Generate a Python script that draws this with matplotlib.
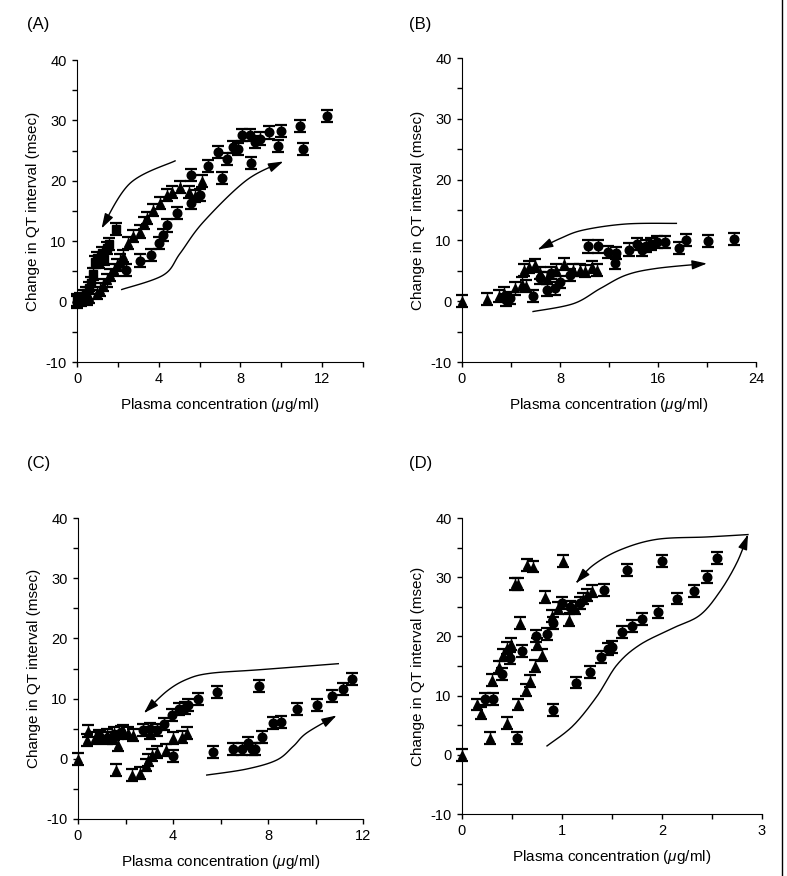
import numpy as np
import matplotlib
matplotlib.use("Agg")
import matplotlib.pyplot as plt

plt.rcParams['font.family'] = ['Liberation Sans', 'DejaVu Sans']
plt.rcParams['mathtext.fontset'] = 'custom'
plt.rcParams['mathtext.rm'] = 'Liberation Sans'
plt.rcParams['mathtext.it'] = 'Liberation Sans:italic'
plt.rcParams['axes.unicode_minus'] = False

# ---- panel A (x 0-14) ----
a_circ_x = [0.0, 0.5, 2.4, 3.09, 3.61, 3.99, 4.23, 4.43, 4.89, 5.59, 5.59, 6.03, 6.39, 6.88, 7.09,
            7.34, 7.66, 7.86, 8.07, 8.45, 8.51, 8.69, 8.97, 9.38, 9.82, 9.98, 10.9, 11.06, 12.24]
a_circ_y = [0.0, 0.5, 5.2, 6.8, 7.7, 9.7, 11.0, 12.6, 14.6, 16.4, 21.0, 17.7, 22.5, 24.7, 20.4,
            23.6, 25.6, 25.3, 27.6, 27.6, 23.0, 26.5, 27.0, 28.0, 25.7, 28.3, 29.1, 25.3, 30.7]
a_tri_x = [0.2, 0.6, 0.96, 1.15, 1.29, 1.45, 1.62, 1.8, 1.94, 2.1, 2.27, 2.52, 2.76, 3.09, 3.3,
           3.45, 3.74, 4.07, 4.4, 4.64, 5.05, 5.46, 5.8, 6.14]
a_tri_y = [0.3, 0.8, 1.4, 2.0, 2.8, 3.5, 4.4, 5.3, 6.1, 6.8, 7.5, 9.7, 10.8, 11.6, 13.0,
           13.8, 15.2, 16.3, 17.7, 18.2, 19.0, 18.2, 17.5, 19.9]
a_sq_x = [0.0, 0.15, 0.3, 0.45, 0.6, 0.7, 0.8, 0.9, 1.0, 1.1, 1.2, 1.3, 1.45, 1.55, 1.9]
a_sq_y = [0.2, 0.5, 1.0, 1.5, 2.2, 3.0, 4.5, 6.5, 7.2, 6.5, 8.0, 7.0, 8.8, 9.5, 12.0]
a_arrow_down = [(4.8, 23.3), (2.6, 19.6), (1.2, 12.1)]
a_arrow_up = [(2.19, 2.0), (4.23, 4.4), (5.05, 8.0), (6.19, 13.2), (8.3, 20.1), (10.1, 23.2)]

# ---- panel B (x 0-24) ----
b_circ_x = [3.6, 3.9, 5.8, 6.4, 6.9, 7.3, 7.6, 8.0, 8.8, 10.3, 11.1, 11.9, 12.5, 12.6, 13.6,
            14.3, 14.7, 15.0, 15.4, 15.9, 16.6, 17.7, 18.3, 20.1, 22.2]
b_circ_y = [0.2, 0.5, 0.9, 3.8, 1.8, 4.6, 2.1, 3.2, 4.3, 9.0, 9.0, 8.1, 6.3, 7.9, 8.5,
            9.4, 8.4, 9.1, 9.4, 9.8, 9.7, 8.7, 10.1, 9.9, 10.2]
b_tri_x = [0.0, 2.0, 3.0, 3.4, 4.3, 4.9, 5.1, 5.2, 5.5, 5.96, 6.4, 6.9, 7.7, 8.3, 9.1,
           9.6, 10.0, 10.6, 11.0]
b_tri_y = [0.1, 0.3, 0.9, 1.3, 2.1, 2.9, 5.1, 2.5, 5.6, 5.9, 4.6, 3.8, 5.1, 6.1, 5.2,
           5.1, 5.0, 5.6, 5.1]
b_arrow_down = [(17.5, 12.8), (13.4, 12.7), (9.9, 11.7), (8.0, 10.3), (6.2, 8.5)]
b_arrow_up = [(5.8, -1.7), (9.1, -0.4), (11.3, 2.1), (13.4, 4.3), (15.9, 5.4), (20.0, 6.2)]

# ---- panel C (x 0-12) ----
c_circ_x = [0.9, 1.2, 1.5, 1.8, 2.72, 3.03, 3.31, 3.62, 3.97, 3.99, 4.27, 4.5, 4.64, 5.07, 5.7,
            5.87, 6.51, 6.92, 7.14, 7.31, 7.45, 7.63, 7.73, 8.2, 8.53, 9.23, 10.05, 10.71, 11.17, 11.52]
c_circ_y = [3.8, 3.5, 4.2, 4.5, 4.8, 4.9, 4.8, 5.8, 7.3, 0.5, 8.2, 8.4, 9.0, 9.9, 1.2,
            11.1, 1.6, 1.6, 2.6, 1.7, 1.6, 12.1, 3.7, 5.9, 6.1, 8.3, 9.0, 10.4, 11.6, 13.2]
c_tri_x = [0.0, 0.36, 0.44, 0.72, 0.93, 1.21, 1.49, 1.6, 1.7, 1.91, 2.12, 2.26, 2.33, 2.61, 2.86,
           2.96, 3.03, 3.1, 3.31, 3.7, 4.0, 4.37, 4.58]
c_tri_y = [-0.1, 3.2, 4.6, 3.4, 3.7, 4.0, 3.4, -1.8, 2.3, 4.6, 4.3, -2.7, 4.0, -2.4, -1.0,
           -0.2, 4.3, 0.7, 1.2, 1.5, 3.4, 3.7, 4.3]
c_arrow_down = [(10.96, 15.8), (7.66, 14.8), (5.56, 14.2), (4.58, 13.2), (3.73, 11.2), (2.78, 7.6)]
c_arrow_up = [(5.42, -2.7), (7.1, -1.7), (8.37, -0.2), (9.07, 2.1), (9.63, 4.3), (10.89, 7.2)]

# ---- panel D (x 0-3) ----
d_circ_x = [0.23, 0.31, 0.40, 0.48, 0.55, 0.6, 0.74, 0.85, 0.91, 0.91, 1.0, 1.08, 1.14, 1.18, 1.28,
            1.39, 1.42, 1.46, 1.50, 1.60, 1.65, 1.70, 1.80, 1.96, 2.0, 2.15, 2.32, 2.45, 2.55]
d_circ_y = [9.4, 9.4, 13.6, 16.4, 2.8, 17.5, 20.0, 20.4, 22.2, 7.5, 25.6, 25.0, 12.2, 25.6, 14.0,
            16.5, 27.8, 17.9, 18.2, 20.8, 31.2, 21.8, 23.0, 24.1, 32.7, 26.4, 27.7, 30.1, 33.2]
d_tri_x = [0.0, 0.15, 0.19, 0.28, 0.3, 0.37, 0.41, 0.45, 0.45, 0.49, 0.53, 0.56, 0.56, 0.58, 0.64,
           0.65, 0.68, 0.71, 0.73, 0.75, 0.80, 0.83, 0.90, 0.96, 1.01, 1.07, 1.13, 1.21, 1.25, 1.30]
d_tri_y = [0.0, 8.5, 7.1, 2.9, 12.7, 14.8, 16.9, 18.0, 5.4, 18.7, 28.8, 28.8, 8.5, 22.2, 11.0,
           32.0, 12.4, 31.8, 15.0, 18.7, 16.9, 26.6, 23.4, 24.8, 32.7, 22.8, 24.8, 26.4, 27.0, 27.6]
d_arrow_down = [(2.86, 37.2), (2.45, 36.8), (1.95, 36.4), (1.58, 34.6), (1.31, 32.0), (1.14, 29.0)]
d_arrow_up = [(0.85, 1.5), (1.11, 4.9), (1.35, 9.9), (1.55, 15.2), (1.78, 18.6), (2.11, 21.4),
              (2.38, 23.6), (2.58, 27.6), (2.75, 32.5), (2.86, 37.2)]

err = 1.0


def smooth(pts, n=20):
    # Catmull-Rom through the hand-traced guide points
    p = np.array(pts, dtype=float)
    p = np.vstack([p[0], p, p[-1]])
    out = []
    for i in range(1, len(p) - 2):
        p0, p1, p2, p3 = p[i - 1], p[i], p[i + 1], p[i + 2]
        for t in np.linspace(0, 1, n, endpoint=False):
            t2, t3 = t * t, t * t * t
            out.append(0.5 * ((2 * p1) + (-p0 + p2) * t + (2 * p0 - 5 * p1 + 4 * p2 - p3) * t2
                              + (-p0 + 3 * p1 - 3 * p2 + p3) * t3))
    out.append(p[-2])
    return np.array(out)


def draw_arrow(ax, pts):
    c = smooth(pts)
    ax.plot(c[:-3, 0], c[:-3, 1], color='black', lw=1.0)
    ax.annotate('', xy=c[-1], xytext=c[-4],
                arrowprops=dict(arrowstyle='-|>,head_length=0.9,head_width=0.28',
                                color='black', lw=1.0, shrinkA=0, shrinkB=0))


def series(ax, x, y, marker):
    ax.errorbar(x, y, yerr=err, fmt=marker, color='black', ms=6.2, capsize=4.5,
                capthick=1.6, elinewidth=1.0, clip_on=False)


def setup(ax, xmax, xmajor, xminor):
    ax.set_xlim(0, xmax)
    ax.set_ylim(-10, 40)
    ax.spines['top'].set_visible(False)
    ax.spines['right'].set_visible(False)
    ax.set_xticks(np.arange(0, xmax + 1e-6, xmajor))
    ax.set_xticks(np.arange(0, xmax + 1e-6, xminor), minor=True)
    ax.set_yticks(np.arange(-10, 41, 10))
    ax.set_yticks(np.arange(-10, 41, 5), minor=True)
    ax.tick_params(which='both', direction='out', length=3.5, width=1.0, labelsize=10.5, pad=4)
    ax.set_xlabel('Plasma concentration ($\\mu$g/ml)', fontsize=11, labelpad=7)
    ax.set_ylabel('Change in QT interval (msec)', fontsize=11, labelpad=4)


W, H = 787, 876
fig = plt.figure(figsize=(W / 100, H / 100), dpi=100)


def add_axes(left, right, top, bottom):
    return fig.add_axes([left / W, 1 - bottom / H, (right - left) / W, (bottom - top) / H])


axA = add_axes(77, 363, 60, 362)
setup(axA, 14, 4, 2)
series(axA, a_sq_x, a_sq_y, 's')
series(axA, a_tri_x, a_tri_y, '^')
series(axA, a_circ_x, a_circ_y, 'o')
draw_arrow(axA, a_arrow_down)
draw_arrow(axA, a_arrow_up)

axB = add_axes(462, 756, 58, 362)
setup(axB, 24, 8, 4)
series(axB, b_tri_x, b_tri_y, '^')
series(axB, b_circ_x, b_circ_y, 'o')
draw_arrow(axB, b_arrow_down)
draw_arrow(axB, b_arrow_up)

axC = add_axes(78, 363, 518, 819)
setup(axC, 12, 4, 2)
series(axC, c_tri_x, c_tri_y, '^')
series(axC, c_circ_x, c_circ_y, 'o')
draw_arrow(axC, c_arrow_down)
draw_arrow(axC, c_arrow_up)

axD = add_axes(462, 762, 518, 814)
setup(axD, 3, 1, 0.5)
series(axD, d_tri_x, d_tri_y, '^')
series(axD, d_circ_x, d_circ_y, 'o')
draw_arrow(axD, d_arrow_down)
draw_arrow(axD, d_arrow_up)

for lab, px, py in [('(A)', 27, 25), ('(B)', 409, 25), ('(C)', 27, 463), ('(D)', 409, 463)]:
    fig.text(px / W, 1 - py / H, lab, fontsize=12, va='center', ha='left')

# right border rule of the scanned page
fig.add_artist(plt.Line2D([782 / W, 782 / W], [0, 1], color='black', lw=1.0))

fig.savefig('out.png', dpi=100)
